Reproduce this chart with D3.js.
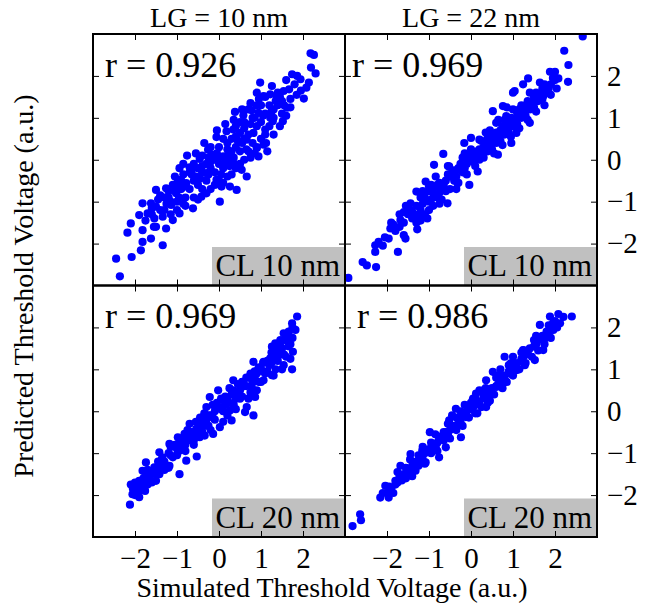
<!DOCTYPE html>
<html><head><meta charset="utf-8">
<script src="https://cdn.jsdelivr.net/npm/d3@7"></script>
<style>
body{margin:0;background:#fff}
svg{display:block}
text{font-family:"Liberation Serif","Times New Roman",serif;fill:#000}
</style>
</head><body>
<svg id="chart" width="650" height="608"></svg>
<script>
// ---------- data ----------
const colTitles = ["LG = 10 nm", "LG = 22 nm"];
const rowLabels = ["CL 10 nm", "CL 20 nm"];
const rValues = ["0.926", "0.969", "0.969", "0.986"];
const tickValues = [-2, -1, 0, 1, 2];
const xTitle = "Simulated Threshold Voltage (a.u.)";
const yTitle = "Predicted Threshold Voltage (a.u.)";

// [simulated, predicted]
const lg10cl10 = [
[2.18,2.54],[2.26,2.50],[2.19,2.20],[2.30,2.06],[1.74,2.04],[1.86,2.00],[1.94,1.92],[2.14,1.84],[2.08,1.72],[2.02,1.46],
[0.98,1.84],[1.26,1.76],[1.54,1.64],[1.67,1.68],[0.90,1.60],[1.06,1.52],[1.22,1.56],[1.38,1.48],[1.50,1.40],[1.62,1.24],
[1.52,0.92],[0.38,1.14],[0.58,1.06],[0.78,1.18],[0.94,1.12],[1.22,1.00],[1.28,0.92],[1.10,0.72],[1.12,0.40],[1.06,0.36],
[-0.06,0.54],[0.18,0.68],[0.34,0.72],[0.50,0.64],[0.66,0.48],[0.82,0.64],[-0.76,0.10],[-0.46,0.02],[-0.26,0.24],[-0.18,0.12],
[0.10,0.08],[0.34,-0.08],[0.42,-0.16],[0.54,-0.24],[0.66,-0.40],[0.94,0.08],[0.90,0.28],[-0.94,-0.20],[-0.70,-0.18],[-0.54,-0.40],
[-0.30,-0.32],[-0.06,-0.48],[0.06,-0.64],[0.26,-0.64],[0.42,-0.72],[-1.50,-0.72],[-1.26,-0.68],[-0.98,-0.48],[-0.78,-0.56],[-1.02,-0.80],
[-0.62,-1.16],[-0.42,-0.88],[0.02,-1.00],[-1.82,-1.04],[-1.62,-1.04],[-1.50,-1.12],[-1.14,-1.08],[-0.94,-1.28],[-1.90,-1.32],[-1.70,-1.28],
[-1.54,-1.40],[-1.34,-1.36],[-1.10,-1.44],[-2.10,-1.52],[-1.82,-1.68],[-1.50,-1.60],[-1.26,-1.64],[-2.18,-1.74],[-1.82,-1.96],[-1.62,-1.88],
[-1.34,-2.04],[-1.86,-2.16],[-2.08,-2.32],[-2.45,-2.36],[-2.36,-2.78],
[-1.2,-0.9],[-1.0,-1.0],[-0.9,-0.7],[-0.8,-0.9],[-0.7,-0.7],[-0.6,-0.5],[-0.5,-0.6],[-0.4,-0.3],[-0.3,-0.5],[-0.2,-0.2],
[-0.1,-0.3],[0.0,-0.1],[0.1,-0.2],[0.2,0.1],[0.3,0.2],[0.4,0.3],[0.5,0.2],[0.6,0.5],[0.7,0.6],[0.8,0.4],
[0.9,0.8],[1.0,0.9],[1.1,1.1],[1.2,1.3],[1.3,1.2],[1.4,1.3],[1.0,1.3],[0.8,1.0],[0.6,0.9],[0.5,0.9],
[0.3,0.5],[0.2,0.4],[0.0,0.3],[-0.1,0.0],[-0.3,-0.1],[-0.5,-0.2],[-0.7,-0.3],[-0.9,-0.5],[-1.1,-0.6],[-1.3,-0.9],
[-1.4,-1.2],[-1.6,-1.3],[-1.3,-1.2],[-1.0,-1.2],[-0.8,-1.1],[-0.6,-0.9],[-0.4,-0.7],[-0.2,-0.7],[0.0,-0.5],[0.2,-0.4],
[0.4,-0.2],[0.6,0.0],[0.7,0.2],[0.9,0.3],[1.1,0.6],[1.2,0.8],[1.3,1.0],[1.5,1.1],[1.4,1.6],[1.1,1.5],
[0.9,1.3],[0.7,1.2],[0.4,0.8],[0.1,0.5],[-0.2,0.3],[-0.4,0.1],[-0.6,-0.1],[0.15,-0.05],[0.35,0.05],[-0.25,-0.35],
[0.55,0.4],[0.75,0.85],[1.0,0.5],[-1.15,-1.0],[-0.95,-0.9],[1.7,1.45],[1.8,1.8],[1.6,1.9],
[-1.45,-0.95],[-1.25,-1.05],[-1.05,-0.75],[-0.85,-0.65],[-0.65,-0.35],[-0.45,-0.45],[-0.25,0.05],[-0.05,0.15],[0.05,-0.35],[0.25,-0.15],
[0.45,0.45],[0.65,0.25],[0.85,1.0],[1.05,1.05],[1.25,1.15],[1.35,1.4],[1.45,1.5],[1.55,1.3],[0.95,1.45],[0.75,1.35],
[0.55,1.2],[0.35,0.95],[0.15,0.85],[-0.05,0.7],[-0.35,0.4],[-0.55,0.15],[-0.85,-0.1],[-1.05,-0.4],[-1.2,-0.75],[-1.4,-0.85],
[-1.6,-1.15],[-1.75,-1.45],[-1.55,-1.6],[-1.15,-1.3],[-0.85,-1.05],[-0.5,-0.95],[-0.3,-0.8],[-0.1,-0.6],[0.1,-0.55],[0.3,-0.35],
[0.5,-0.1],[0.75,0.05],[0.85,0.15],[1.15,0.2],[1.3,0.6],[1.45,0.8],[1.6,1.05],[1.7,1.25],[1.85,1.55],[1.95,1.65],
[0.6,0.75],[0.4,0.55],[0.2,0.25],[0.0,0.05],[-0.2,-0.05],[-0.4,-0.15],[-0.65,-0.25],[-0.85,-0.35],[-1.0,-0.6],[0.25,0.0]
];
const lg22cl10 = [
[2.66,2.94],[2.22,2.60],[2.32,2.26],[2.31,1.86],[1.88,2.10],[2.00,2.10],[2.08,1.94],[2.04,1.70],[1.36,1.94],[1.24,1.80],
[1.04,1.64],[1.00,1.60],[1.64,1.84],[1.72,1.52],[1.52,1.44],[1.40,0.88],[0.52,1.16],[0.76,1.28],[0.84,1.04],[0.60,0.88],
[0.96,0.40],[1.08,0.64],[-0.16,0.40],[0.00,0.52],[0.20,0.48],[0.36,0.32],[0.64,0.12],[-0.66,0.14],[-0.88,-0.12],[-0.84,-0.40],
[-0.52,-0.16],[-0.12,0.08],[-0.28,-0.24],[0.16,-0.28],[-1.08,-0.52],[-1.30,-0.76],[-1.00,-0.64],[-0.76,-0.80],[-0.56,-1.04],[-0.32,-0.56],
[-0.04,-0.60],[-1.44,-1.04],[-1.40,-1.24],[-1.24,-1.36],[-1.04,-1.40],[-1.28,-1.66],[-1.68,-1.44],[-1.90,-1.50],[-1.92,-1.64],[-1.96,-1.88],
[-2.20,-1.96],[-2.28,-2.04],[-2.28,-2.20],[-1.60,-1.80],[-1.56,-1.88],[-1.74,-2.20],[-2.58,-2.44],[-2.48,-2.52],[-2.26,-2.56],[-2.92,-2.82],
[-1.5,-1.3],[-1.4,-1.4],[-1.3,-1.1],[-1.2,-1.2],[-1.1,-0.9],[-1.0,-1.0],[-0.9,-0.8],[-0.8,-0.6],[-0.7,-0.7],[-0.6,-0.5],
[-0.5,-0.4],[-0.4,-0.5],[-0.3,-0.2],[-0.2,-0.3],[-0.1,-0.1],[0.0,0.0],[0.1,0.1],[0.2,0.0],[0.3,0.3],[0.4,0.2],
[0.5,0.5],[0.6,0.4],[0.7,0.7],[0.8,0.6],[0.9,0.9],[1.0,0.8],[1.1,1.1],[1.2,1.0],[1.3,1.3],[1.4,1.2],
[1.5,1.5],[1.6,1.4],[1.7,1.7],[1.8,1.6],[1.9,1.8],[-1.6,-1.5],[-1.7,-1.6],[-1.8,-1.7],[-1.2,-0.9],[-1.0,-0.75],
[-0.8,-0.9],[-0.6,-0.75],[-0.4,-0.25],[-0.2,0.05],[0.0,0.25],[0.2,0.25],[0.4,0.55],[0.6,0.65],[0.8,0.95],[1.0,1.2],
[1.2,1.3],[1.4,1.6],[0.3,0.05],[0.5,0.25],[0.7,0.45],[0.9,0.65],[1.1,0.85],[1.3,1.05],[1.5,1.25],[1.7,1.45],
[-0.1,-0.35],[-0.3,-0.55],[-0.5,-0.7],[-0.7,-0.95],[-0.9,-1.1],[-1.1,-1.3],[-1.3,-1.5],[0.1,-0.15],[-1.55,-1.1],[-1.6,-1.25],
[1.9,1.55],[2.0,1.9],[0.65,0.95],[0.85,1.25],
[-1.45,-1.2],[-1.35,-1.3],[-1.15,-1.05],[-0.95,-0.95],[-0.85,-0.65],[-0.75,-0.55],[-0.65,-0.6],[-0.55,-0.35],[-0.45,-0.3],[-0.35,-0.4],
[-0.25,-0.1],[-0.15,-0.2],[-0.05,0.1],[0.05,-0.05],[0.15,0.2],[0.25,0.15],[0.35,0.4],[0.45,0.35],[0.55,0.6],[0.65,0.55],
[0.75,0.8],[0.85,0.75],[0.95,1.0],[1.05,0.95],[1.15,1.2],[1.25,1.15],[1.35,1.4],[1.45,1.35],[1.55,1.6],[1.65,1.55],
[1.75,1.8],[1.85,1.7],[1.95,1.95],[0.45,0.7],[0.25,0.45],[-0.15,0.15],[-0.55,-0.15],[-0.95,-0.6],[-1.15,-0.75],[0.55,0.15],
[0.75,0.35],[0.95,0.55],[1.15,0.75],[1.35,0.95],[1.55,1.15],[-0.35,-0.7],[-0.75,-1.05],[-1.0,-1.2],[-1.2,-1.45],[-1.7,-1.3],
[-1.85,-1.55],[-2.05,-1.85],[-2.1,-2.05],[0.35,0.65],[1.75,1.3]
];
const lg10cl20 = [
[1.86,2.26],[1.74,2.10],[1.82,1.94],[1.66,1.90],[1.54,1.86],[1.46,1.70],[1.34,1.62],[1.26,1.54],[1.76,1.42],[1.22,1.26],
[1.06,1.18],[0.82,1.18],[0.94,1.02],[1.54,1.10],[1.74,1.00],[1.26,0.86],[0.34,0.74],[0.58,0.66],[0.78,0.58],[0.90,0.50],
[1.06,0.74],[0.86,0.34],[0.66,0.10],[0.82,-0.10],[0.62,-0.02],[-0.02,0.50],[-0.22,0.34],[-0.30,0.10],[0.10,0.26],[0.26,0.02],
[0.30,-0.22],[0.02,-0.38],[-0.14,-0.54],[-0.34,-0.58],[-0.46,-0.62],[-0.70,-0.30],[-0.54,-0.42],[-0.82,-0.54],[-0.98,-0.62],[-1.18,-0.78],
[-0.90,-0.86],[-0.78,-1.18],[-0.53,-1.08],[-0.94,-1.50],[-1.42,-0.98],[-1.38,-1.18],[-1.54,-1.34],[-1.74,-1.22],[-1.82,-1.42],[-1.66,-1.58],
[-1.50,-1.66],[-1.90,-1.66],[-2.10,-1.75],[-2.06,-1.98],[-2.12,-2.23],[-1.76,-1.90],[-1.42,-1.50],[-1.18,-1.30],
[-1.9,-1.9],[-1.8,-1.6],[-1.7,-1.75],[-1.6,-1.5],[-1.5,-1.4],[-1.4,-1.35],[-1.3,-1.2],[-1.2,-1.0],[-1.1,-1.1],[-1.0,-0.9],
[-0.9,-0.75],[-0.8,-0.8],[-0.7,-0.6],[-0.6,-0.5],[-0.5,-0.45],[-0.4,-0.3],[-0.3,-0.2],[-0.2,-0.1],[-0.1,0.0],[0.0,0.1],
[0.1,0.0],[0.2,0.3],[0.3,0.4],[0.4,0.3],[0.5,0.5],[0.6,0.6],[0.7,0.8],[0.8,0.7],[0.9,0.9],[1.0,1.0],
[1.1,0.9],[1.2,1.1],[1.3,1.3],[1.4,1.4],[1.5,1.5],[1.6,1.7],[1.7,1.6],[1.6,1.3],[1.4,1.2],[1.0,0.7],
[0.5,0.3],[0.2,-0.1],[-0.1,-0.2],[-0.4,-0.5],[-0.6,-0.7],[-0.8,-0.95],[-1.0,-1.05],[-1.3,-1.4],[-1.6,-1.7],[-1.8,-1.8],
[-1.95,-1.8],[-2.0,-2.0],[-1.7,-1.4],[-1.45,-1.2],[-1.15,-0.85],[-0.95,-0.65],[-0.75,-0.45],[-0.55,-0.25],[-0.35,-0.05],[-0.15,0.15],
[0.05,0.3],[0.25,0.55],[0.45,0.65],[0.65,0.8],[0.85,0.95],[1.05,1.15],[1.25,1.4],[1.45,1.6],[1.65,1.85],[1.75,2.0],
[0.15,0.15],[0.35,0.15],[0.55,0.35],[0.75,0.45],[0.95,0.7],[1.15,0.95],[1.35,1.0],[1.55,1.35],[-0.25,-0.35],[-0.45,-0.15],
[-1.85,-1.7],[-1.75,-1.55],[-1.65,-1.65],[-1.55,-1.45],[-1.45,-1.5],[-1.35,-1.1],[-1.25,-1.3],[-1.15,-1.05],[-1.05,-0.8],[-0.95,-0.95],
[-0.85,-0.7],[-0.75,-0.7],[-0.65,-0.5],[-0.55,-0.6],[-0.45,-0.35],[-0.35,-0.35],[-0.25,-0.1],[-0.15,-0.15],[-0.05,0.2],[0.05,0.05],
[0.15,0.35],[0.25,0.2],[0.35,0.5],[0.45,0.45],[0.55,0.7],[0.65,0.6],[0.75,0.9],[0.85,0.8],[0.95,1.05],[1.05,0.95],
[1.15,1.2],[1.25,1.15],[1.35,1.45],[1.45,1.35],[1.55,1.7],[1.65,1.55],[1.75,1.75],[1.7,1.25],[1.5,1.0],[1.3,0.85],
[0.7,0.3],[0.4,0.05],[0.1,-0.25],[-0.2,-0.45],[-0.6,-0.8],[-1.2,-1.35],[-2.0,-1.7],[-2.05,-1.85],[-1.9,-2.05]
];
const lg22cl20 = [
[2.40,2.26],[2.08,2.32],[1.88,2.26],[2.12,2.10],[1.96,1.94],[1.64,2.06],[1.76,1.74],[1.56,1.62],[1.72,1.46],[1.52,1.22],
[1.24,1.46],[1.00,1.30],[0.80,1.30],[1.28,1.10],[1.08,0.98],[0.92,0.90],[0.52,0.94],[0.36,0.74],[0.60,0.58],[0.80,0.70],
[0.12,0.42],[0.04,0.26],[0.36,0.10],[-0.36,0.06],[-0.52,-0.22],[-0.28,-0.30],[-0.12,-0.14],[-0.24,-0.62],[-0.76,-0.62],[-0.98,-0.50],
[-1.44,-1.02],[-1.16,-0.94],[-1.08,-1.22],[-0.84,-0.86],[-0.60,-0.86],[-0.76,-1.10],[-1.32,-1.42],[-1.56,-1.58],[-1.68,-1.30],[-2.04,-1.78],
[-2.16,-2.06],[-1.96,-2.06],[-1.80,-1.66],[-2.64,-2.46],[-2.62,-2.60],[-2.82,-2.74],
[-2.0,-1.95],[-1.9,-1.85],[-1.8,-1.75],[-1.7,-1.55],[-1.6,-1.5],[-1.5,-1.4],[-1.4,-1.3],[-1.3,-1.2],[-1.2,-1.15],[-1.1,-1.0],
[-1.0,-0.9],[-0.9,-0.8],[-0.8,-0.75],[-0.7,-0.6],[-0.6,-0.5],[-0.5,-0.45],[-0.4,-0.35],[-0.3,-0.2],[-0.2,-0.1],[-0.1,0.0],
[0.0,0.05],[0.1,0.15],[0.2,0.2],[0.3,0.35],[0.4,0.4],[0.5,0.55],[0.6,0.6],[0.7,0.75],[0.8,0.85],[0.9,0.95],
[1.0,1.05],[1.1,1.15],[1.2,1.25],[1.3,1.35],[1.4,1.5],[1.5,1.55],[1.6,1.7],[1.7,1.8],[1.8,1.9],[1.9,2.0],
[2.0,2.15],[-1.85,-1.95],[-1.55,-1.6],[-1.25,-1.3],[-0.95,-1.0],[-0.65,-0.7],[-0.35,-0.45],[-0.05,-0.15],[0.25,0.1],[0.55,0.4],
[0.85,0.7],[1.15,1.0],[1.45,1.3],[1.75,1.6],[-1.75,-1.45],[-1.45,-1.15],[-1.15,-0.85],[-0.85,-0.55],[-0.55,-0.3],[-0.25,0.0],
[0.05,0.3],[0.35,0.55],[0.65,0.85],[0.95,1.15],[1.25,1.45],[1.55,1.8],[1.85,2.05],[0.15,-0.05],[0.45,0.25],[0.75,0.55],
[-0.45,-0.1],[-0.15,0.15],[0.2,0.5],[0.7,1.0],
[-2.1,-1.95],[-1.95,-1.8],[-1.75,-1.7],[-1.65,-1.65],[-1.45,-1.45],[-1.35,-1.25],[-1.15,-1.15],[-1.05,-0.95],[-0.85,-0.85],[-0.75,-0.65],
[-0.55,-0.55],[-0.45,-0.4],[-0.25,-0.25],[-0.15,-0.05],[0.05,0.1],[0.15,0.25],[0.35,0.3],[0.45,0.5],[0.65,0.65],[0.75,0.8],
[0.95,1.0],[1.05,1.1],[1.25,1.3],[1.35,1.4],[1.55,1.6],[1.65,1.75],[1.85,1.85],[1.95,2.1],[2.05,2.0],[2.2,2.25],
[-0.65,-0.5],[-0.35,-0.15],[0.0,0.2],[0.3,0.5],[0.6,0.8],[0.9,1.1],[1.2,1.4],[1.5,1.7],[-0.95,-0.75],[-1.25,-1.05],
[-1.55,-1.35],[0.4,0.2],[0.1,-0.05],[-0.2,-0.35],[-0.5,-0.65],[-0.8,-0.95],[-1.1,-1.25],[-1.4,-1.55],[1.0,0.85],[1.3,1.15],
[1.6,1.45],[1.9,1.75]
];
const panelData = [lg10cl10, lg22cl10, lg10cl20, lg22cl20];

// ---------- layout ----------
const svg = d3.select("#chart");
const frame = {left: 93, right: 597, top: 34, bottom: 537};
const pw = (frame.right - frame.left) / 2;
const ph = (frame.bottom - frame.top) / 2;
const rOffsets = [12, 7, 12, 12];

const xScales = [0, 1].map(c => d3.scaleLinear().domain([-3, 3]).range([frame.left + c * pw, frame.left + (c + 1) * pw]));
const yScales = [0, 1].map(r => d3.scaleLinear().domain([-3, 3]).range([frame.top + (r + 1) * ph, frame.top + r * ph]));

const defs = svg.append("defs");

for (let r = 0; r < 2; r++) {
  for (let c = 0; c < 2; c++) {
    const i = r * 2 + c;
    const x = xScales[c], y = yScales[r];
    const x0 = x.range()[0], x1 = x.range()[1], y0 = y.range()[1], y1 = y.range()[0];
    defs.append("clipPath").attr("id", "clip" + i)
      .append("rect").attr("x", x0).attr("y", y0).attr("width", x1 - x0).attr("height", y1 - y0);
    const g = svg.append("g").attr("clip-path", `url(#clip${i})`);
    g.selectAll("circle").data(panelData[i]).join("circle")
      .attr("cx", d => x(d[0])).attr("cy", d => y(d[1]))
      .attr("r", 4.1).attr("fill", "#0000ff");

    // CL label with grey box
    const lab = g.append("g");
    lab.append("rect").attr("fill", "#c0c0c0")
      .attr("x", x1 - 133).attr("y", y1 - 38.5).attr("width", 140).attr("height", 45);
    lab.append("text").attr("x", x1 - 5).attr("y", y1 - 9.5)
      .attr("text-anchor", "end").attr("font-size", 31).text(rowLabels[r]);

    // r label
    svg.append("text").attr("x", x0 + rOffsets[i]).attr("y", y0 + 42.5)
      .attr("font-size", 36).text("r = " + rValues[i]);

    // ticks on all four sides (inward)
    const fmtB = r === 1 ? d3.format("") : () => "";
    const fmtR = c === 1 ? d3.format("") : () => "";
    const axB = svg.append("g").attr("transform", `translate(0,${y1})`)
      .call(d3.axisBottom(x).tickValues(tickValues).tickSize(-6).tickPadding(10).tickFormat(fmtB));
    const axT = svg.append("g").attr("transform", `translate(0,${y0})`)
      .call(d3.axisTop(x).tickValues(tickValues).tickSize(-6).tickFormat(() => ""));
    const axL = svg.append("g").attr("transform", `translate(${x0},0)`)
      .call(d3.axisLeft(y).tickValues(tickValues).tickSize(-6).tickFormat(() => ""));
    const axR = svg.append("g").attr("transform", `translate(${x1},0)`)
      .call(d3.axisRight(y).tickValues(tickValues).tickSize(-6).tickPadding(10).tickFormat(fmtR));
    [axB, axT, axL, axR].forEach(a => {
      a.select(".domain").remove();
      a.selectAll(".tick line").attr("stroke", "#000").attr("stroke-width", 1);
      a.selectAll(".tick text").attr("font-family", "Liberation Serif").attr("font-size", 29).attr("fill", "#000");
    });

    svg.append("rect").attr("x", x0).attr("y", y0).attr("width", x1 - x0).attr("height", y1 - y0)
      .attr("fill", "none").attr("stroke", "#000").attr("stroke-width", 2);
  }
}

// column titles
colTitles.forEach((t, c) => {
  const x = xScales[c];
  svg.append("text").attr("x", (x.range()[0] + x.range()[1]) / 2).attr("y", 26.5)
    .attr("text-anchor", "middle").attr("font-size", 28).text(t);
});

// axis titles
svg.append("text").attr("x", 332).attr("y", 597).attr("text-anchor", "middle")
  .attr("font-size", 28).text(xTitle);
svg.append("text").attr("transform", "translate(33,286) rotate(-90)")
  .attr("text-anchor", "middle").attr("font-size", 28).text(yTitle);
</script>
</body></html>
